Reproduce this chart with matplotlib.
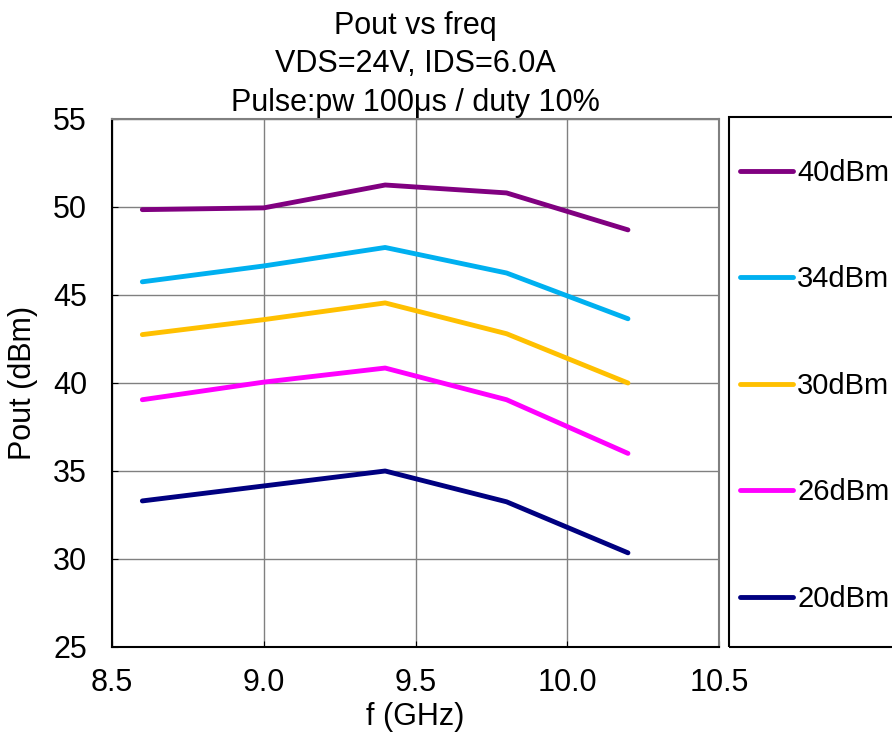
import matplotlib
matplotlib.use("Agg")
import matplotlib.pyplot as plt
from matplotlib.patches import Rectangle

plt.rcParams['font.family'] = ['Liberation Sans', 'DejaVu Sans']

# Données
freq = [8.6, 9.0, 9.4, 9.8, 10.2]
labels = ["40dBm", "34dBm", "30dBm", "26dBm", "20dBm"]
pout_40 = [49.85, 49.95, 51.25, 50.8, 48.7]
pout_34 = [45.75, 46.65, 47.7, 46.25, 43.65]
pout_30 = [42.75, 43.6, 44.55, 42.8, 40.0]
pout_26 = [39.05, 40.05, 40.85, 39.05, 36.0]
pout_20 = [33.3, 34.15, 35.0, 33.25, 30.35]
series = [pout_40, pout_34, pout_30, pout_26, pout_20]
colors = ["#800080", "#00B0F0", "#FFC000", "#FF00FF", "#000080"]

fig = plt.figure(figsize=(8.92, 7.33), dpi=100)
ax = fig.add_axes([112/892, 1 - 647/733, 607/892, 528/733])

for y, c, lab in zip(series, colors, labels):
    ax.plot(freq, y, color=c, lw=3.5, label=lab, solid_capstyle='round')

ax.set_xlim(8.5, 10.5)
ax.set_ylim(25, 55)
ax.set_xticks([8.5, 9.0, 9.5, 10.0, 10.5])
ax.set_xticklabels(["8.5", "9.0", "9.5", "10.0", "10.5"])
ax.set_yticks(range(25, 56, 5))
ax.grid(True, color="#808080", lw=1)
ax.tick_params(direction='in', labelsize=22, length=4)
ax.tick_params(axis='x', pad=15)
ax.tick_params(axis='y', pad=18)
ax.spines['left'].set_linewidth(1.5)
ax.spines['bottom'].set_linewidth(1.5)
for s in ['top', 'right']:
    ax.spines[s].set_color("#808080")
    ax.spines[s].set_linewidth(1.5)

ax.set_xlabel("f (GHz)", fontsize=22, labelpad=3)
ax.set_ylabel("Pout (dBm)", fontsize=22, labelpad=11)
ax.set_title("Pout vs freq\nVDS=24V, IDS=6.0A\nPulse:pw 100μs / duty 10%",
             fontsize=22, linespacing=1.36, pad=6)

# Légende
fig.patches.append(Rectangle((729/892, 1 - 647/733), 0.3, 530/733,
                             transform=fig.transFigure, fill=False,
                             edgecolor='black', lw=1.5))
fig.legend(loc='upper left', bbox_to_anchor=(740/892, 1 - 159/733),
           frameon=False, fontsize=21, borderpad=0, borderaxespad=0,
           handlelength=1.82, handletextpad=0.14, labelspacing=2.69)

fig.savefig("out.png")
